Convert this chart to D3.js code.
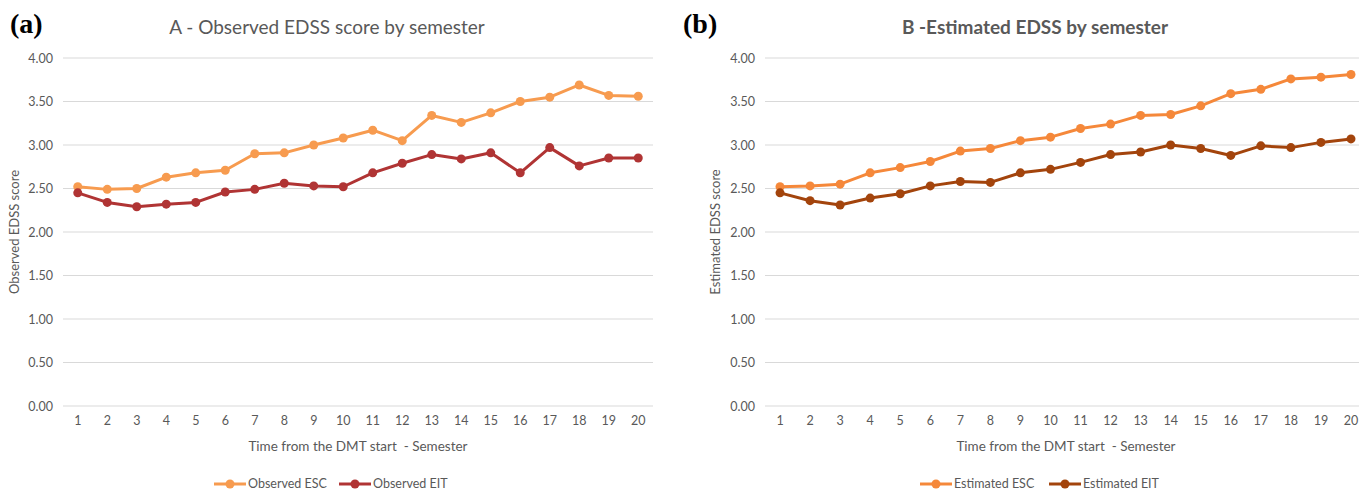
<!DOCTYPE html>
<html>
<head>
<meta charset="utf-8">
<script src="https://cdn.jsdelivr.net/npm/d3@7"></script>
<style>
  body { margin: 0; background: #fff; }
  svg { display: block; }
  text { font-family: Lato, "Open Sans", sans-serif; fill: #595959; }
  .grid line { stroke: #d9d9d9; stroke-width: 1.2; }
  .panel-tag { font-family: "Liberation Serif", "DejaVu Serif", serif; font-weight: bold; fill: #000; }
</style>
</head>
<body>
<svg id="chart" width="1359" height="492"></svg>
<script>
// 学期 1..20
var semesters = d3.range(1, 21);
var yTicks = [0, 0.5, 1, 1.5, 2, 2.5, 3, 3.5, 4];

// 观测值
var observedESC = [2.52, 2.49, 2.50, 2.63, 2.68, 2.71, 2.90, 2.91, 3.00, 3.08,
                   3.17, 3.05, 3.34, 3.26, 3.37, 3.50, 3.55, 3.69, 3.57, 3.56];
var observedEIT = [2.45, 2.34, 2.29, 2.32, 2.34, 2.46, 2.49, 2.56, 2.53, 2.52,
                   2.68, 2.79, 2.89, 2.84, 2.91, 2.68, 2.97, 2.76, 2.85, 2.85];

// 估计值
var estimatedESC = [2.52, 2.53, 2.55, 2.68, 2.74, 2.81, 2.93, 2.96, 3.05, 3.09,
                    3.19, 3.24, 3.34, 3.35, 3.45, 3.59, 3.64, 3.76, 3.78, 3.81];
var estimatedEIT = [2.45, 2.36, 2.31, 2.39, 2.44, 2.53, 2.58, 2.57, 2.68, 2.72,
                    2.80, 2.89, 2.92, 3.00, 2.96, 2.88, 2.99, 2.97, 3.03, 3.07];

var svg = d3.select("#chart");

function drawPanel(opt) {
  var g = svg.append("g");

  var x = d3.scaleBand()
    .domain(semesters)
    .range([opt.left, opt.right]);

  var y = d3.scaleLinear()
    .domain([0, 4])
    .range([406, 58]);

  // 网格线
  g.append("g")
    .attr("class", "grid")
    .selectAll("line")
    .data(yTicks)
    .join("line")
    .attr("x1", opt.left)
    .attr("x2", opt.gridRight)
    .attr("y1", function (d) { return y(d); })
    .attr("y2", function (d) { return y(d); });

  // y 轴
  var yAxis = g.append("g")
    .attr("transform", "translate(" + (opt.left - 10) + ",0)")
    .call(d3.axisLeft(y).tickValues(yTicks).tickFormat(d3.format(".2f")).tickSize(0).tickPadding(0));
  yAxis.select(".domain").remove();
  yAxis.selectAll("text").style("font-size", "12.5px").attr("fill", "#595959");

  // x 轴
  var xAxis = g.append("g")
    .attr("transform", "translate(0,416)")
    .call(d3.axisBottom(x).tickSize(0).tickPadding(0));
  xAxis.select(".domain").remove();
  xAxis.selectAll("text").style("font-size", "12.5px").attr("fill", "#595959");

  // 标题
  g.append("text")
    .attr("x", opt.titleX)
    .attr("y", 34)
    .attr("text-anchor", "middle")
    .style("font-size", "19px")
    .style("font-weight", opt.titleBold ? "bold" : "normal")
    .text(opt.title);

  g.append("text")
    .attr("class", "panel-tag")
    .attr("x", opt.tagX)
    .attr("y", 33)
    .style("font-size", "28px")
    .text(opt.tag);

  // 轴标题
  g.append("text")
    .attr("transform", "translate(" + opt.yTitleX + ",232) rotate(-90)")
    .attr("text-anchor", "middle")
    .style("font-size", "13px")
    .text(opt.yTitle);

  g.append("text")
    .attr("x", opt.xTitleX)
    .attr("y", 451)
    .attr("text-anchor", "middle")
    .style("font-size", "13.5px")
    .style("white-space", "pre")
    .text("Time from the DMT start  - Semester");

  var line = d3.line()
    .x(function (d, i) { return x(semesters[i]) + x.bandwidth() / 2; })
    .y(function (d) { return y(d); });

  opt.series.forEach(function (s) {
    g.append("path")
      .datum(s.values)
      .attr("fill", "none")
      .attr("stroke", s.color)
      .attr("stroke-width", 3)
      .attr("stroke-linejoin", "round")
      .attr("d", line);

    g.append("g")
      .selectAll("circle")
      .data(s.values)
      .join("circle")
      .attr("cx", function (d, i) { return x(semesters[i]) + x.bandwidth() / 2; })
      .attr("cy", function (d) { return y(d); })
      .attr("r", 4.5)
      .attr("fill", s.color);

    // 图例
    var lg = g.append("g").attr("transform", "translate(" + s.legendX + ",484)");
    lg.append("line")
      .attr("x1", 0).attr("x2", 32)
      .attr("stroke", s.color).attr("stroke-width", 3);
    lg.append("circle")
      .attr("cx", 16).attr("r", 4.5).attr("fill", s.color);
    lg.append("text")
      .attr("x", 34).attr("dy", "0.35em")
      .style("font-size", "12.5px")
      .text(s.name);
  });
}

drawPanel({
  left: 63, right: 653, gridRight: 653,
  title: "A - Observed EDSS score by semester", titleX: 327, titleBold: false,
  tag: "(a)", tagX: 10,
  yTitle: "Observed EDSS score", yTitleX: 19,
  xTitleX: 358,
  series: [
    { name: "Observed ESC", values: observedESC, color: "#F79B4F", legendX: 214 },
    { name: "Observed EIT", values: observedEIT, color: "#B03434", legendX: 339 }
  ]
});

drawPanel({
  left: 765, right: 1366, gridRight: 1359,
  title: "B -Estimated EDSS by semester", titleX: 1035, titleBold: true,
  tag: "(b)", tagX: 683,
  yTitle: "Estimated EDSS score", yTitleX: 720,
  xTitleX: 1066,
  series: [
    { name: "Estimated ESC", values: estimatedESC, color: "#F5883A", legendX: 920 },
    { name: "Estimated EIT", values: estimatedEIT, color: "#A3440C", legendX: 1049 }
  ]
});
</script>
</body>
</html>
